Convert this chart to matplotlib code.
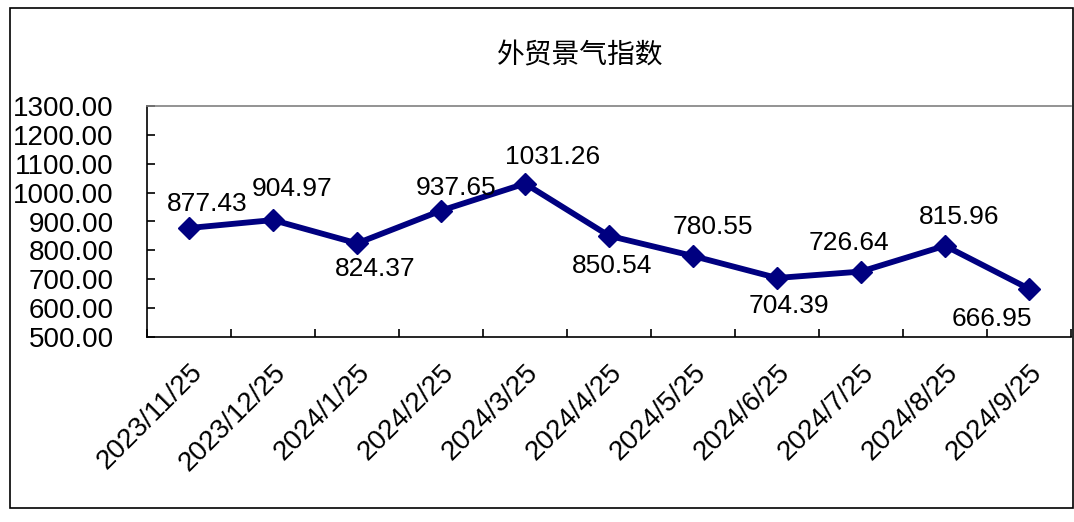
import matplotlib
matplotlib.use('Agg')
import matplotlib.pyplot as plt
from matplotlib.patches import Rectangle
from matplotlib.ticker import FixedLocator

plt.rcParams['font.family'] = ['Liberation Sans', 'Noto Sans CJK SC', 'DejaVu Sans']

# 数据
dates = ['2023/11/25', '2023/12/25', '2024/1/25', '2024/2/25', '2024/3/25', '2024/4/25',
         '2024/5/25', '2024/6/25', '2024/7/25', '2024/8/25', '2024/9/25']
values = [877.43, 904.97, 824.37, 937.65, 1031.26, 850.54, 780.55, 704.39, 726.64, 815.96, 666.95]

# 数据标签偏移 (像素)
label_dx = [18, 19, 18, 15, 28, 3, 20, 12, -12, 14, -37]
label_dy = [24, 31, -26, 23, 27, -30, 29, -28, 29, 29, -30]

color = '#000080'

fig = plt.figure(figsize=(10.74, 5.22), dpi=100)
ax = fig.add_axes([147 / 1074, 185 / 522, 924 / 1074, 231 / 522])

x = list(range(len(values)))
ax.plot(x, values, color=color, linewidth=4.2, marker='D', markersize=11, zorder=3)

for xi, v, dx, dy in zip(x, values, label_dx, label_dy):
    ax.annotate(f'{v:.2f}', (xi, v), xytext=(dx, dy), textcoords='offset pixels',
                ha='center', va='center', fontsize=19)

ax.set_xlim(-0.5, len(values) - 0.5)
ax.set_ylim(500, 1300)
ax.set_yticks(range(500, 1301, 100))
ax.set_yticklabels([f'{t:.2f}' for t in range(500, 1301, 100)], fontsize=20)

ax.set_xticks(x)
ax.set_xticklabels(dates, fontsize=20, rotation=45, ha='right', va='top', rotation_mode='anchor')
ax.xaxis.set_minor_locator(FixedLocator([i - 0.5 for i in range(len(values) + 1)]))
ax.tick_params(axis='x', which='major', length=0, pad=16)
ax.tick_params(axis='x', which='minor', direction='in', length=6, width=1.2)
ax.tick_params(axis='y', direction='in', length=6, width=1.2, pad=24)

ax.spines['right'].set_visible(False)
ax.spines['top'].set_color('#808080')
ax.spines['top'].set_linewidth(1.2)
ax.spines['left'].set_linewidth(1.2)
ax.spines['bottom'].set_linewidth(1.2)

fig.text(580 / 1074, 1 - 55 / 522, '外贸景气指数', ha='center', va='center', fontsize=20,
         family=['Noto Sans CJK SC', 'DejaVu Sans'])

fig.patches.append(Rectangle((10 / 1074, 14 / 522), 1063 / 1074, 500 / 522,
                             transform=fig.transFigure, fill=False, edgecolor='black', linewidth=1.2))

fig.savefig('out.png', dpi=100)
